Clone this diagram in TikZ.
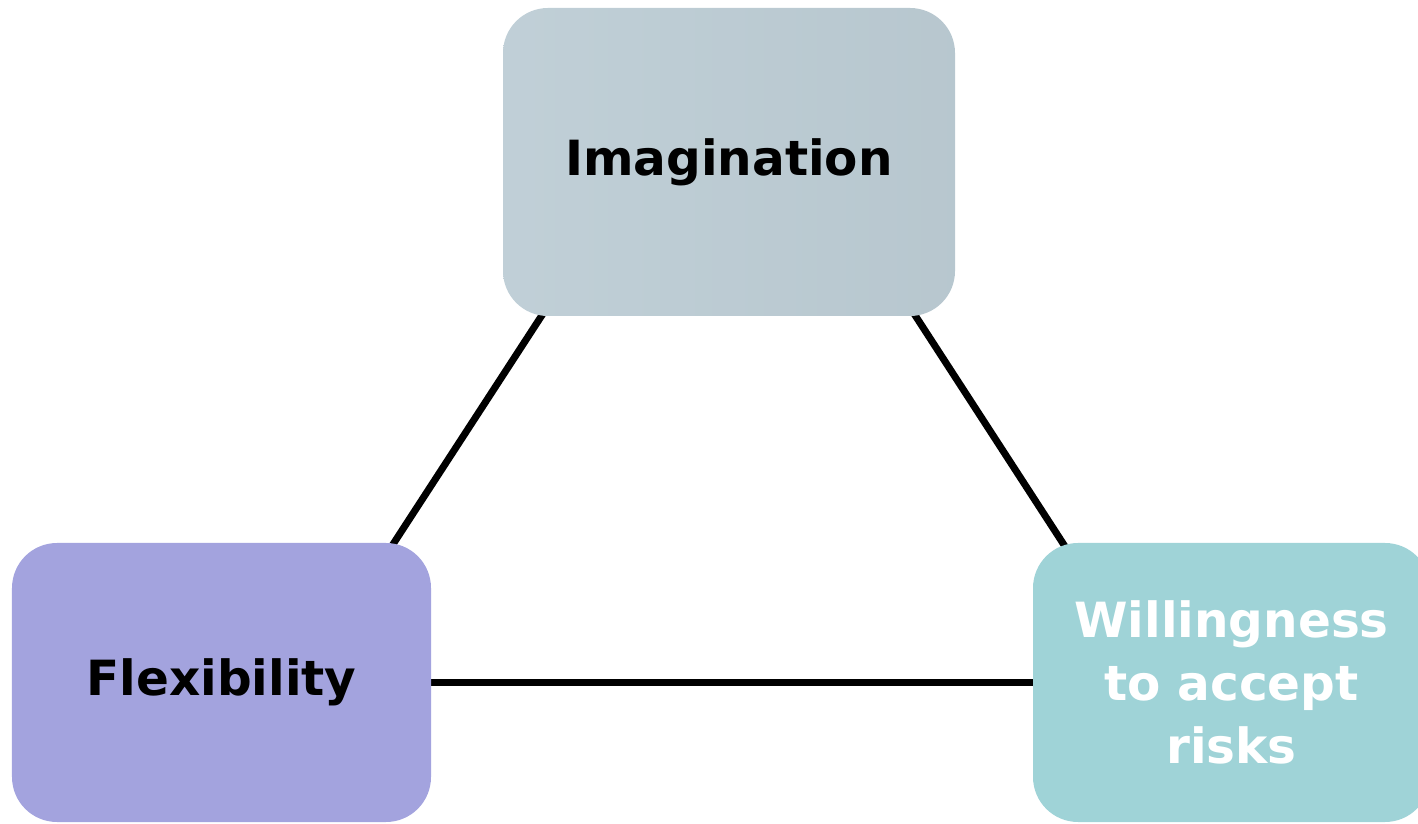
\documentclass[tikz,border=0pt]{standalone}
\usepackage{fontspec}
\setmainfont{DejaVu Sans}
\usetikzlibrary{backgrounds}
\definecolor{imgcol}{HTML}{BDCDD5}
\definecolor{flexcol}{HTML}{A3A3DE}
\definecolor{riskcol}{HTML}{9FD3D7}
\begin{document}
\begin{tikzpicture}[box/.style={rectangle, rounded corners=0.45cm, inner sep=0pt, align=center, font=\fontsize{13.8}{18}\selectfont\bfseries},
  link/.style={line width=2pt, shorten <=-0.1cm, shorten >=-0.1cm}]
\useasboundingbox (0,0) rectangle (14.18,8.23);
\node[box, left color=imgcol!95!white, right color=imgcol!97!black, minimum width=4.52cm, minimum height=3.08cm] (img) at (7.29,6.61) {Imagination};
\node[box, fill=flexcol, minimum width=4.19cm, minimum height=2.79cm] (flex) at (2.215,1.405) {Flexibility};
\node[box, fill=riskcol, text=white, minimum width=3.97cm, minimum height=2.79cm] (risk) at (12.315,1.405) {Willingness\\to accept\\risks};

\begin{scope}[on background layer]
\draw[link] ([xshift=-1.88cm]img.south) -- ([xshift=3.83cm]flex.north west);
\draw[link] ([xshift=1.87cm]img.south) -- ([xshift=0.30cm]risk.north west);
\draw[link] (flex) -- (risk);
\end{scope}
\end{tikzpicture}
\end{document}
